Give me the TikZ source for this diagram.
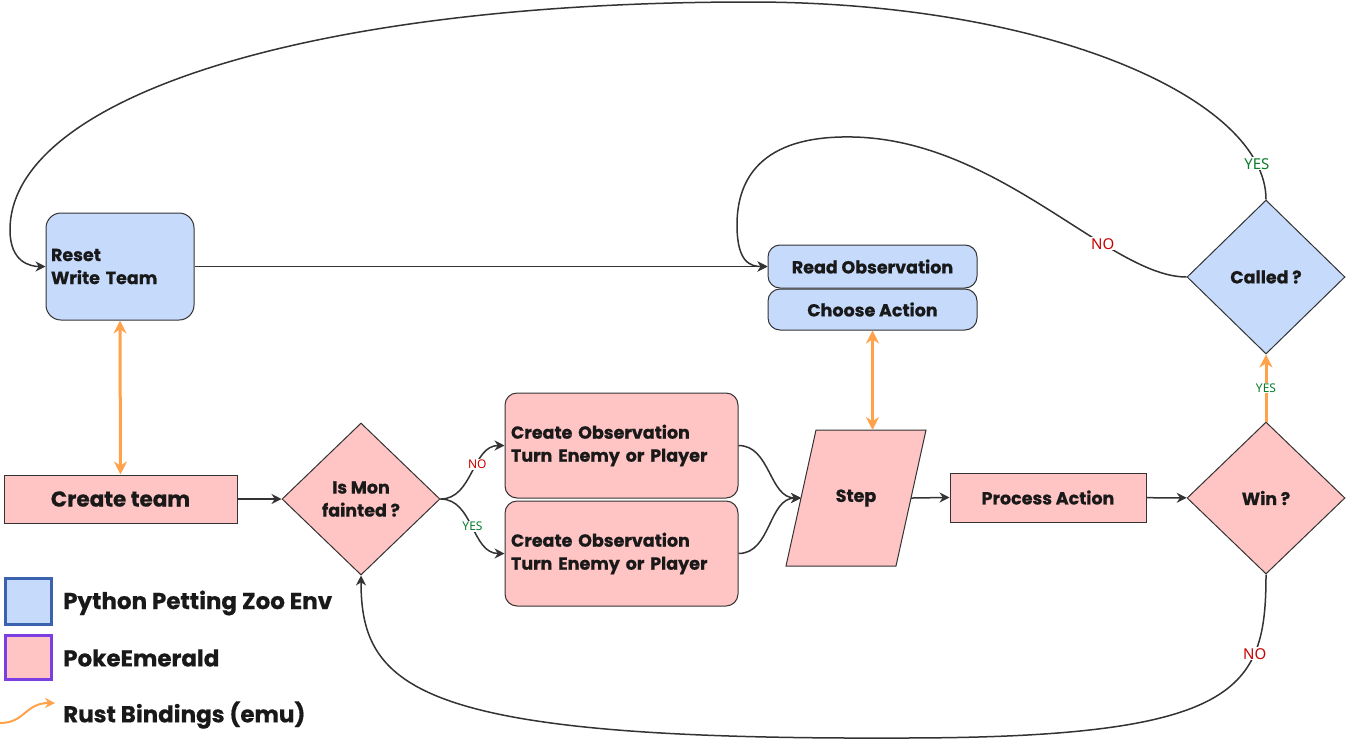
\documentclass[tikz,border=0pt]{standalone}
\usepackage{fontspec}
\setmainfont{Poppins}[BoldFeatures={FakeBold=0.6}]
\newfontfamily\tagfont{Noto Sans}
\usetikzlibrary{shapes.geometric,arrows.meta,positioning}

\definecolor{envblue}{HTML}{C6DBFC}
\definecolor{emupink}{HTML}{FFC4C4}
\definecolor{edgegray}{HTML}{333333}
\definecolor{rustorange}{HTML}{FFA24B}
\definecolor{noRed}{HTML}{C80000}
\definecolor{yesGreen}{HTML}{0A7D2C}
\definecolor{keyblue}{HTML}{3A62AE}
\definecolor{keypurple}{HTML}{7A3EE2}

\tikzset{
  flowbox/.style={draw=edgegray, line width=1pt, text=black!90, inner sep=0pt,
    font=\bfseries\fontsize{17.5}{23}\selectfont},
  envbox/.style={flowbox, fill=envblue, rounded corners=12pt},
  emubox/.style={flowbox, fill=emupink},
  decision/.style={flowbox, diamond, align=center},
  flow/.style={draw=edgegray, line width=1.5pt, -{Stealth[length=10pt,width=10pt]}},
  bind/.style={draw=rustorange, line width=3pt, -{Stealth[length=13pt,width=13pt]}},
  bindboth/.style={bind, {Stealth[length=13pt,width=13pt]}-{Stealth[length=13pt,width=13pt]}},
  tag/.style={font=\tagfont\fontsize{15}{15}\selectfont, fill=white, inner sep=1pt},
  smalltag/.style={tag, font=\tagfont\fontsize{12}{12}\selectfont},
  keytext/.style={font=\bfseries\fontsize{23}{23}\selectfont, text=black!90, anchor=west, inner sep=0pt},
}

\begin{document}
\begin{tikzpicture}[x=1pt, y=-1pt]
  \useasboundingbox (0,0) rectangle (1346,742);

  % Python env side
  \node[envbox, rounded corners=15pt, minimum width=148pt, minimum height=107pt, text width=138pt, align=left] (reset) at (120,266.5) {Reset\\Write Team};
  \node[envbox, minimum width=209pt, minimum height=43pt] (readobs) at (872.5,266.5) {Read Observation};
  \node[envbox, minimum width=209pt, minimum height=41pt] (choose) at (872.5,309.5) {Choose Action};
  \node[decision, fill=envblue, minimum width=158pt, minimum height=154pt] (called) at (1266,277) {Called ?};

  % PokeEmerald side
  \node[emubox, minimum width=233pt, minimum height=48pt, font=\bfseries\fontsize{21.5}{24}\selectfont] (team) at (120.5,499) {Create team};
  \node[decision, fill=emupink, minimum width=158pt, minimum height=152pt] (fainted) at (361,499) {Is Mon\\fainted ?};
  \node[emubox, rounded corners=12pt, minimum width=233pt, minimum height=105pt, text width=221pt, align=left] (obsno) at (621.5,445.5) {Create Observation\\Turn Enemy or Player};
  \node[emubox, rounded corners=12pt, minimum width=233pt, minimum height=105pt, text width=221pt, align=left] (obsyes) at (621.5,553.5) {Create Observation\\Turn Enemy or Player};

  % step parallelogram
  \coordinate (stepBL) at (786,566);
  \coordinate (stepTL) at (816,430);
  \coordinate (stepTR) at (926,430);
  \coordinate (stepBR) at (896,566);
  \coordinate (stepIn) at (801,498);
  \coordinate (stepOut) at (911,498);
  \coordinate (stepTop) at (872.5,430);
  \filldraw[draw=edgegray, fill=emupink, line width=1pt] (stepBL) -- (stepTL) -- (stepTR) -- (stepBR) -- cycle;
  \node[flowbox, draw=none] (step) at (856,498) {Step};

  \node[emubox, minimum width=196pt, minimum height=49pt] (process) at (1048,497.5) {Process Action};
  \node[decision, fill=emupink, minimum width=158pt, minimum height=152pt] (win) at (1266,498) {Win ?};

  % main flow
  \draw[flow] (reset) -- (readobs);
  \draw[flow] (team) -- (fainted);
  \draw[flow] (fainted.east) to[out=0, in=180] node[smalltag, text=noRed, pos=0.6] {NO} (obsno.west);
  \draw[flow] (fainted.east) to[out=0, in=180] node[smalltag, text=yesGreen, pos=0.5] {YES} (obsyes.west);
  \draw[flow] (obsno.east) to[out=0, in=180] (stepIn);
  \draw[flow] (obsyes.east) to[out=0, in=180] (stepIn);
  \draw[flow] (stepOut) to[out=0, in=180] (process);
  \draw[flow] (process) -- (win);

  % rust bindings
  \draw[bindboth] (reset.south) -- (team.north);
  \draw[bindboth] (choose.south) -- (stepTop);
  \draw[bind] (win.north) -- node[smalltag, text=yesGreen] {YES} (called.south);

  % loops back
  \draw[flow] (called.north) .. controls (1266,100) and (1050,2) .. (750,2) node[tag, text=yesGreen, pos=0.12] {YES}
    .. controls (300,2) and (10,100) .. (10,230) .. controls (10,262) and (30,266.5) .. (reset.west);
  \draw[flow] (called.west) .. controls (1110,277) and (1000,140) .. (853,137) node[tag, text=noRed, pos=0.32] {NO}
    .. controls (760,135) and (737,180) .. (737,225) .. controls (737,262) and (750,266.5) .. (readobs.west);
  \draw[flow] (win.south) .. controls (1266,690) and (1240,738) .. (900,738) node[tag, text=noRed, pos=0.27] {NO}
    .. controls (420,740) and (361,690) .. (fainted.south);

  % legend
  \node[draw=keyblue, line width=3pt, fill=envblue, minimum width=46pt, minimum height=46pt] (keyenv) at (28.5,601.5) {};
  \node[draw=keypurple, line width=3pt, fill=emupink, minimum width=46pt, minimum height=44pt] (keyemu) at (28.5,657.5) {};
  \node[keytext] (keyenvtext) at (63,603) {Python Petting Zoo Env};
  \node[keytext] (keyemutext) at (63,658) {PokeEmerald};
  \node[keytext] (keyrusttext) at (63,715) {Rust Bindings (emu)};
  \coordinate (keystart) at (0,723);
  \coordinate (keyend) at (55,703);
  \draw[bind, line width=2pt, -{Stealth[length=10pt,width=10pt]}] (keystart) .. controls (25,723) and (25,703) .. (keyend);
\end{tikzpicture}
\end{document}
